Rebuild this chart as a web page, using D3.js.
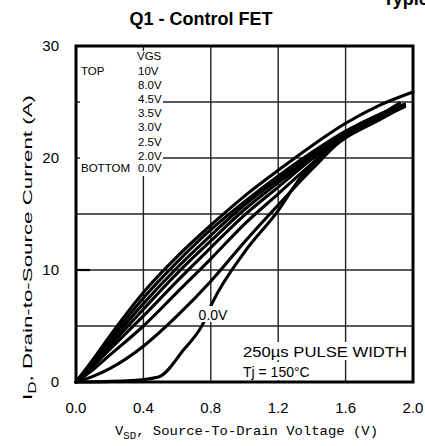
<!DOCTYPE html>
<html><head><meta charset="utf-8">
<script src="https://cdn.jsdelivr.net/npm/d3@7"></script>
<style>body{margin:0;background:#fff}svg{display:block}</style>
</head><body>
<svg id="c" width="425" height="446"></svg>
<script>
const xTicks = [0.0, 0.4, 0.8, 1.2, 1.6, 2.0];
const xTickLabels = ["0.0", "0.4", "0.8", "1.2", "1.6", "2.0"];
const yTicks = [0, 10, 20, 30];
const yGrid = [5, 15, 25];
const legendLabels = ["10V", "8.0V", "4.5V", "3.5V", "3.0V", "2.5V", "2.0V", "0.0V"];

// [VSD (V), ID (A)]
const vgs10V = [[0,0],[0.1,2.0],[0.2,4.1],[0.4,8.0],[0.6,11.2],[0.8,14.0],[1.0,16.6],[1.2,18.9],[1.4,21.1],[1.6,23.1],[1.8,24.7],[2.0,25.9]];
const vgs8V  = [[0,0],[0.1,1.9],[0.2,3.8],[0.4,7.5],[0.6,10.7],[0.8,13.6],[1.0,16.1],[1.2,18.4],[1.4,20.5],[1.6,22.4],[1.8,23.9],[1.95,24.8]];
const vgs45V = [[0,0],[0.1,1.7],[0.2,3.5],[0.4,7.0],[0.6,10.2],[0.8,13.1],[1.0,15.8],[1.2,18.1],[1.4,20.3],[1.6,22.3],[1.8,23.8],[1.92,24.9]];
const vgs35V = [[0,0],[0.1,1.6],[0.2,3.2],[0.4,6.5],[0.6,9.7],[0.8,12.6],[1.0,15.4],[1.2,17.8],[1.4,20.1],[1.6,22.2],[1.8,23.7],[1.95,24.7]];
const vgs30V = [[0,0],[0.1,1.4],[0.2,2.9],[0.4,5.9],[0.6,9.0],[0.8,12.0],[1.0,14.9],[1.2,17.4],[1.4,19.9],[1.6,22.1],[1.8,23.6],[1.95,24.6]];
const vgs25V = [[0,0],[0.1,1.1],[0.2,2.4],[0.4,5.0],[0.6,8.0],[0.8,11.0],[1.0,14.1],[1.2,16.8],[1.4,19.5],[1.6,22.0],[1.8,23.5],[1.95,24.6]];
const vgs20V = [[0,0],[0.1,0.5],[0.2,1.2],[0.4,3.2],[0.6,5.9],[0.8,9.0],[1.0,12.5],[1.2,15.8],[1.4,19.0],[1.6,21.9],[1.8,23.5],[1.95,24.6]];
const vgs00V = [[0,0],[0.3,0.1],[0.49,0.45],[0.64,2.9],[0.75,5.1],[0.81,7.1],[1.0,11.6],[1.2,15.3],[1.33,18.2],[1.45,20.1],[1.6,21.8],[1.8,23.4],[1.93,24.5]];
const seriesList = [vgs10V, vgs8V, vgs45V, vgs35V, vgs30V, vgs25V, vgs20V, vgs00V];

const svg = d3.select("#c");
const L = 76, R = 413, T = 46, B = 382;
const x = d3.scaleLinear().domain([0, 2.0]).range([L, R]);
const y = d3.scaleLinear().domain([0, 30]).range([B, T]);

// grid
const g = svg.append("g");
xTicks.slice(1, -1).forEach(v => {
  g.append("line").attr("x1", x(v)).attr("x2", x(v)).attr("y1", T).attr("y2", B)
    .attr("stroke", "#222").attr("stroke-width", 1.4);
});
[...yGrid, 10, 20].forEach(v => {
  g.append("line").attr("x1", L).attr("x2", R).attr("y1", y(v)).attr("y2", y(v))
    .attr("stroke", "#222").attr("stroke-width", 1.4);
});
[10, 20].forEach(v => {
  g.append("line").attr("x1", L).attr("x2", L + 14).attr("y1", y(v)).attr("y2", y(v))
    .attr("stroke", "#000").attr("stroke-width", 2.2);
});

// legend white block
svg.append("rect").attr("x", L + 1).attr("y", T + 1).attr("width", 86).attr("height", 129).attr("fill", "#fff");
svg.append("line").attr("x1", x(0.4)).attr("x2", x(0.4)).attr("y1", T).attr("y2", T + 5).attr("stroke", "#222").attr("stroke-width", 1.4);
[25, 20].forEach(v => {
  svg.append("line").attr("x1", L).attr("x2", L + 4).attr("y1", y(v)).attr("y2", y(v)).attr("stroke", "#222").attr("stroke-width", 1.4);
});

// curves
const line = d3.line().x(d => x(d[0])).y(d => y(d[1])).curve(d3.curveMonotoneX);
svg.append("g").selectAll("path").data(seriesList).join("path")
  .attr("d", line).attr("fill", "none").attr("stroke", "#000")
  .attr("stroke-width", 3.1).attr("stroke-linejoin", "round").attr("stroke-linecap", "round");

// border
svg.append("rect").attr("x", L).attr("y", T).attr("width", R - L).attr("height", B - T)
  .attr("fill", "none").attr("stroke", "#000").attr("stroke-width", 3);

const font = "Arial, 'Liberation Sans', sans-serif";

// legend text
const lg = svg.append("g").attr("font-family", font).attr("font-size", 11.5).attr("fill", "#000");
lg.append("text").attr("x", 137).attr("y", 60).text("VGS");
lg.append("text").attr("x", 81).attr("y", 75).text("TOP");
lg.append("text").attr("x", 81).attr("y", 172).text("BOTTOM");
legendLabels.forEach((t, i) => {
  lg.append("text").attr("x", 138).attr("y", 75 + i * 14.1 - (i === 7 ? 1.7 : 0)).text(t);
});

// 0.0V label
svg.append("rect").attr("x", 196).attr("y", 306).attr("width", 34).attr("height", 16).attr("fill", "#fff");
svg.append("text").attr("x", 213).attr("y", 320).attr("text-anchor", "middle")
  .attr("font-family", font).attr("font-size", 14).text("0.0V");

// annotation
svg.append("rect").attr("x", 241).attr("y", 342).attr("width", 168).attr("height", 18).attr("fill", "#fff");
svg.append("rect").attr("x", 241).attr("y", 362).attr("width", 80).attr("height", 18).attr("fill", "#fff");
svg.append("text").attr("x", 243).attr("y", 357).attr("font-family", font).attr("font-size", 14)
  .attr("textLength", 164).attr("lengthAdjust", "spacingAndGlyphs").text("250µs PULSE WIDTH");
svg.append("text").attr("x", 243).attr("y", 377).attr("font-family", font).attr("font-size", 14).text("Tj = 150°C");

// axis tick labels
svg.append("g").selectAll("text").data(xTicks).join("text")
  .attr("x", d => x(d)).attr("y", 413).attr("text-anchor", "middle")
  .attr("font-family", font).attr("font-size", 15).text((d, i) => xTickLabels[i]);
svg.append("g").selectAll("text").data(yTicks).join("text")
  .attr("x", 59).attr("y", d => y(d) + 5).attr("text-anchor", "end")
  .attr("font-family", font).attr("font-size", 15).text(d => d);

// titles
svg.append("text").attr("x", 201).attr("y", 25).attr("text-anchor", "middle")
  .attr("font-family", font).attr("font-weight", "bold").attr("font-size", 18).text("Q1 - Control FET");
svg.append("text").attr("x", 383).attr("y", 4.5)
  .attr("font-family", font).attr("font-weight", "bold").attr("font-size", 18).text("Typical");

const xt = svg.append("text").attr("x", 115).attr("y", 435)
  .attr("font-family", "'Liberation Mono', 'DejaVu Sans Mono', monospace").attr("font-size", 13)
  .attr("textLength", 263).attr("lengthAdjust", "spacingAndGlyphs");
xt.append("tspan").text("V");
xt.append("tspan").attr("font-size", 10).attr("dy", 4).text("SD");
xt.append("tspan").attr("dy", -4).text(", Source-To-Drain Voltage (V)");

const yt = svg.append("text").attr("transform", "translate(32,400) rotate(-90)")
  .attr("font-family", font).attr("font-size", 13)
  .attr("textLength", 305).attr("lengthAdjust", "spacingAndGlyphs");
yt.append("tspan").text("I");
yt.append("tspan").attr("font-size", 10).attr("dy", 4).text("D");
yt.append("tspan").attr("dy", -4).text(",  Drain-to-Source Current (A)");
</script>
</body></html>
